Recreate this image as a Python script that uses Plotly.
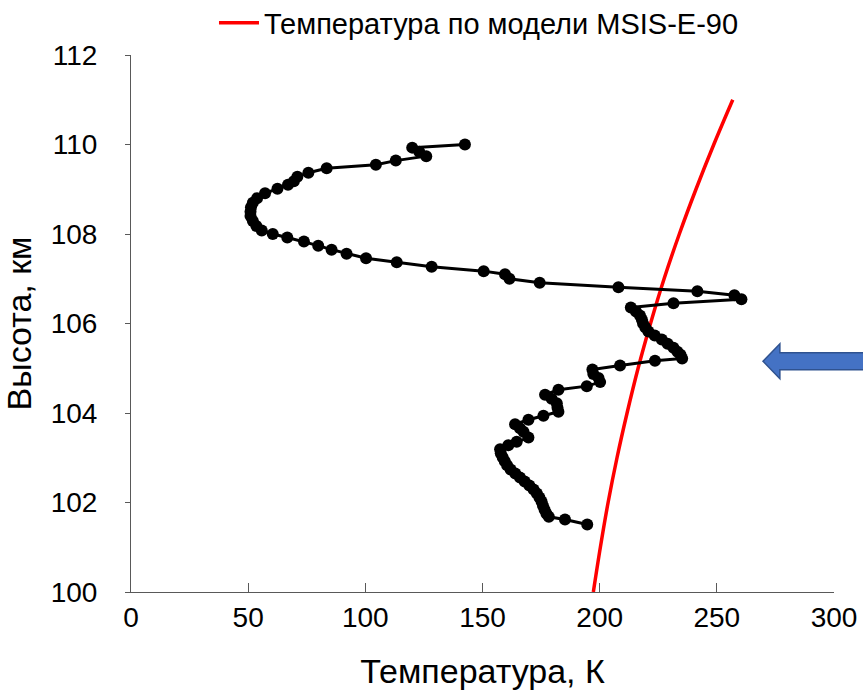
import plotly.graph_objects as go

# Measured temperature profile (K) versus altitude (km)
meas_temp = [
    142.5, 120.0, 123.0, 126.0, 113.0, 104.5, 83.5, 75.7, 71.0, 69.5,
    67.0, 62.5, 57.2, 53.8, 52.0, 51.2, 51.0, 51.0, 52.0, 53.5,
    55.8, 60.5, 66.7, 73.8, 79.9, 85.6, 92.0, 100.3, 113.4, 128.3,
    150.5, 159.6, 161.5, 174.4, 208.0, 241.7, 257.5, 260.5, 231.5, 213.3,
    215.5, 217.2, 218.0, 218.5, 219.5, 220.8, 223.5, 226.5, 229.0, 231.5,
    233.2, 234.5, 235.2, 223.6, 208.7, 196.9, 197.3, 199.5, 200.2, 194.5,
    182.4, 176.7, 179.5, 181.7, 182.0, 182.4, 176.0, 169.6, 163.9, 166.0,
    167.5, 169.6, 164.6, 161.0, 157.5, 157.8, 158.6, 159.5, 160.5, 162.0,
    164.0, 166.0, 168.0, 170.0, 171.8, 173.2, 174.3, 175.2, 175.8, 176.5,
    177.3, 178.3, 185.2, 194.7,
]
meas_alt = [
    110.00, 109.93, 109.84, 109.74, 109.64, 109.55, 109.47, 109.37, 109.28, 109.18,
    109.10, 109.01, 108.91, 108.80, 108.70, 108.60, 108.50, 108.40, 108.29, 108.18,
    108.08, 108.00, 107.92, 107.83, 107.74, 107.65, 107.56, 107.46, 107.37, 107.27,
    107.17, 107.10, 107.00, 106.91, 106.81, 106.72, 106.63, 106.54, 106.45, 106.36,
    106.27, 106.18, 106.09, 106.00, 105.91, 105.82, 105.73, 105.64, 105.55, 105.46,
    105.37, 105.30, 105.22, 105.17, 105.06, 104.97, 104.87, 104.78, 104.69, 104.60,
    104.52, 104.41, 104.32, 104.22, 104.12, 104.03, 103.94, 103.85, 103.75, 103.66,
    103.58, 103.45, 103.36, 103.28, 103.19, 103.10, 103.01, 102.92, 102.83, 102.74,
    102.65, 102.56, 102.47, 102.38, 102.29, 102.20, 102.11, 102.02, 101.93, 101.84,
    101.75, 101.68, 101.62, 101.51,
]

# MSIS-E-90 model temperature
msis_alt = [100, 101, 102, 103, 104, 105, 106, 107, 108, 109, 110, 111]
msis_temp = [197.3, 200.3, 203.6, 207.4, 211.7, 216.4, 221.7, 227.5, 234.0, 241.1, 248.7, 256.8]

x_ticks = [0, 50, 100, 150, 200, 250, 300]
y_ticks = [100, 102, 104, 106, 108, 110, 112]

FONT = "Liberation Sans"

fig = go.Figure()

fig.add_trace(go.Scatter(
    x=msis_temp, y=msis_alt, mode="lines",
    line=dict(color="#FF0000", width=3.5, shape="spline"),
    name="Температура по модели MSIS-E-90",
))

fig.add_trace(go.Scatter(
    x=meas_temp, y=meas_alt, mode="lines+markers",
    line=dict(color="#000000", width=3),
    marker=dict(color="#000000", size=12),
    showlegend=False,
))

# Blue block arrow at the right edge
yc, sh, hh = 0.4298, 0.0158, 0.0325
x_tip, x_neck, x_end = 0.899, 0.923, 1.06
arrow_path = (
    f"M {x_tip},{yc} L {x_neck},{yc + hh} L {x_neck},{yc + sh} "
    f"L {x_end},{yc + sh} L {x_end},{yc - sh} L {x_neck},{yc - sh} "
    f"L {x_neck},{yc - hh} Z"
)
fig.add_shape(
    type="path", path=arrow_path, xref="paper", yref="paper",
    fillcolor="#4472C4", line=dict(color="#2F528F", width=1.5),
)

axis_common = dict(
    showgrid=False, zeroline=False, showline=True,
    linecolor="#595959", linewidth=1, tickcolor="#595959",
    tickfont=dict(family=FONT, size=28, color="#000000"),
)

fig.update_xaxes(
    range=[0, 300], tickvals=x_ticks, ticks="inside", ticklen=9,
    title=dict(text="Температура, К", font=dict(family=FONT, size=34, color="#000000"), standoff=27),
    **axis_common,
)
fig.update_yaxes(
    range=[100, 112], tickvals=y_ticks, ticks="outside", ticklen=5,
    ticklabelstandoff=22,
    title=dict(text="Высота, км", font=dict(family=FONT, size=34, color="#000000"), standoff=10),
    **axis_common,
)

fig.update_layout(
    width=863, height=700,
    margin=dict(l=131, r=29, t=55, b=108, autoexpand=False),
    plot_bgcolor="white", paper_bgcolor="white",
    font=dict(family=FONT, color="#000000"),
    legend=dict(
        x=0.495, y=1.06, xanchor="center", yanchor="middle",
        orientation="h", font=dict(family=FONT, size=29, color="#000000"),
        bgcolor="rgba(0,0,0,0)", itemwidth=40,
    ),
)

fig.write_html("out.html")
